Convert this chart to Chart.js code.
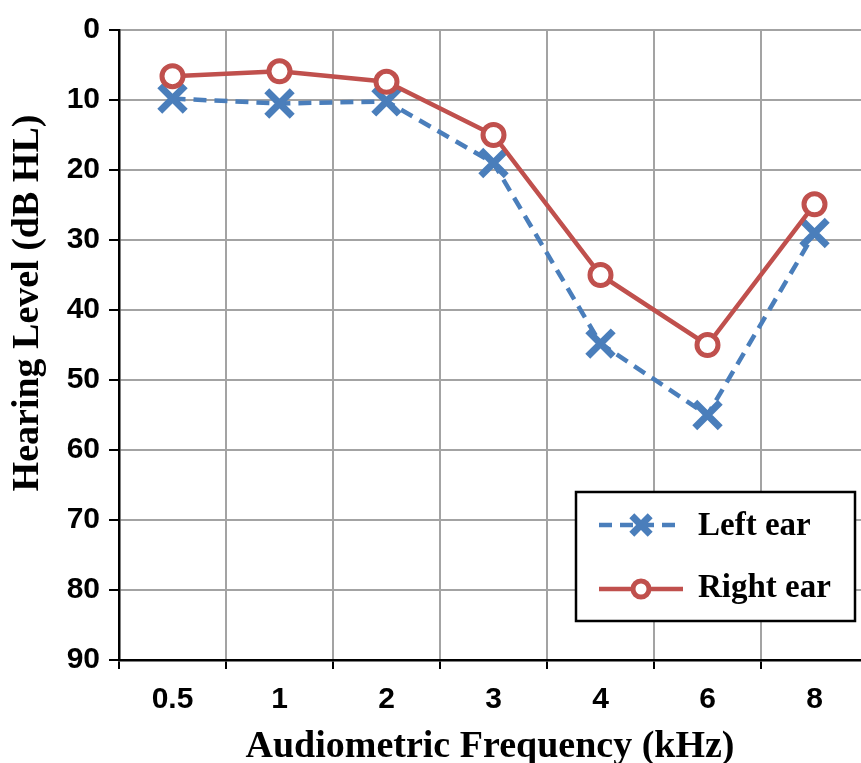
<!DOCTYPE html>
<html>
<head>
<meta charset="utf-8">
<script src="https://cdn.jsdelivr.net/npm/chart.js@4"></script>
<style>
  html, body { margin: 0; padding: 0; background: #fff; overflow: hidden; }
  #wrap { width: 870px; height: 763px; }
</style>
</head>
<body>
<div id="wrap"><canvas id="audiogram" width="870" height="763"></canvas></div>
<script>
// === DATA ===
const frequencies = ['0.5', '1', '2', '3', '4', '6', '8'];
const leftEar  = [9.8, 10.5, 10.2, 19, 44.8, 55, 29];
const rightEar = [6.6, 5.9, 7.4, 15, 35, 45, 24.9];
const yMin = 0, yMax = 90, yStep = 10;
const xTitle = 'Audiometric Frequency (kHz)';
const yTitle = 'Hearing Level (dB HL)';

const BLUE = '#4a7ebb';
const RED = '#c0504d';
const GRID = '#a3a3a3';

// titulos + leyenda dibujados encima
const overlay = {
  id: 'overlay',
  afterDraw(chart) {
    const ctx = chart.ctx;
    ctx.save();
    ctx.fillStyle = '#000';
    ctx.font = 'bold 38px "Liberation Serif"';
    ctx.textAlign = 'center';
    ctx.textBaseline = 'alphabetic';
    ctx.fillText(xTitle, 490, 757);

    ctx.save();
    ctx.translate(38, 303);
    ctx.rotate(-Math.PI / 2);
    ctx.fillText(yTitle, 0, 0);
    ctx.restore();

    // caja leyenda
    ctx.fillStyle = '#fff';
    ctx.fillRect(576, 492, 279, 129);
    ctx.strokeStyle = '#000';
    ctx.lineWidth = 2.5;
    ctx.strokeRect(576, 492, 279, 129);

    const rows = [
      { ds: chart.data.datasets[0], y: 525, base: 535, r: 13 },
      { ds: chart.data.datasets[1], y: 589, base: 597, r: 8 }
    ];
    rows.forEach(row => {
      const ds = row.ds;
      ctx.strokeStyle = ds.borderColor;
      ctx.lineWidth = ds.borderWidth;
      ctx.setLineDash(ds.borderDash || []);
      ctx.beginPath();
      ctx.moveTo(599, row.y);
      ctx.lineTo(683, row.y);
      ctx.stroke();
      ctx.setLineDash([]);

      ctx.strokeStyle = ds.pointBorderColor;
      ctx.fillStyle = ds.pointBackgroundColor;
      ctx.lineWidth = ds.pointBorderWidth;
      Chart.helpers.drawPoint(ctx, {
        pointStyle: ds.pointStyle, radius: row.r, borderWidth: ds.pointBorderWidth, rotation: 0
      }, 641, row.y);

      ctx.fillStyle = '#000';
      ctx.font = 'bold 33px "Liberation Serif"';
      ctx.textAlign = 'left';
      ctx.fillText(ds.label, 698, row.base);
    });
    ctx.restore();
  }
};

const tickFont = { family: '"Liberation Sans", Arial, sans-serif', size: 30, weight: 'bold' };

new Chart(document.getElementById('audiogram'), {
  type: 'line',
  data: {
    labels: frequencies,
    datasets: [
      {
        label: 'Left ear',
        data: leftEar,
        order: 1,
        borderColor: BLUE,
        borderWidth: 4.5,
        borderDash: [13, 8],
        pointStyle: 'crossRot',
        pointRadius: 18,
        pointBorderWidth: 7,
        pointBorderColor: BLUE,
        pointBackgroundColor: BLUE,
        tension: 0
      },
      {
        label: 'Right ear',
        data: rightEar,
        order: 0,
        borderColor: RED,
        borderWidth: 4.5,
        pointStyle: 'circle',
        pointRadius: 10.5,
        pointBorderWidth: 5,
        pointBorderColor: RED,
        pointBackgroundColor: '#fff',
        tension: 0
      }
    ]
  },
  options: {
    responsive: false,
    animation: false,
    layout: { autoPadding: false, padding: { top: 30, right: 2, left: 0, bottom: 0 } },
    plugins: {
      legend: { display: false },
      tooltip: { enabled: false }
    },
    scales: {
      x: {
        type: 'category',
        offset: true,
        grid: { offset: true, color: GRID, lineWidth: 2, tickLength: 9, tickColor: '#000', tickWidth: 2 },
        border: { color: '#000', width: 2.5 },
        ticks: { font: tickFont, color: '#000', padding: 13, maxRotation: 0 },
        afterFit: (s) => { s.height = 103; s.paddingLeft = 0; s.paddingRight = 0; }
      },
      y: {
        type: 'linear',
        reverse: true,
        min: yMin,
        max: yMax,
        grid: { color: GRID, lineWidth: 2, tickLength: 10, tickColor: '#000', tickWidth: 2 },
        border: { color: '#000', width: 2.5 },
        ticks: { stepSize: yStep, font: tickFont, color: '#000', padding: 9 },
        afterFit: (s) => { s.width = 119; s.paddingTop = 0; s.paddingBottom = 0; }
      }
    }
  },
  plugins: [overlay]
});
</script>
</body>
</html>
